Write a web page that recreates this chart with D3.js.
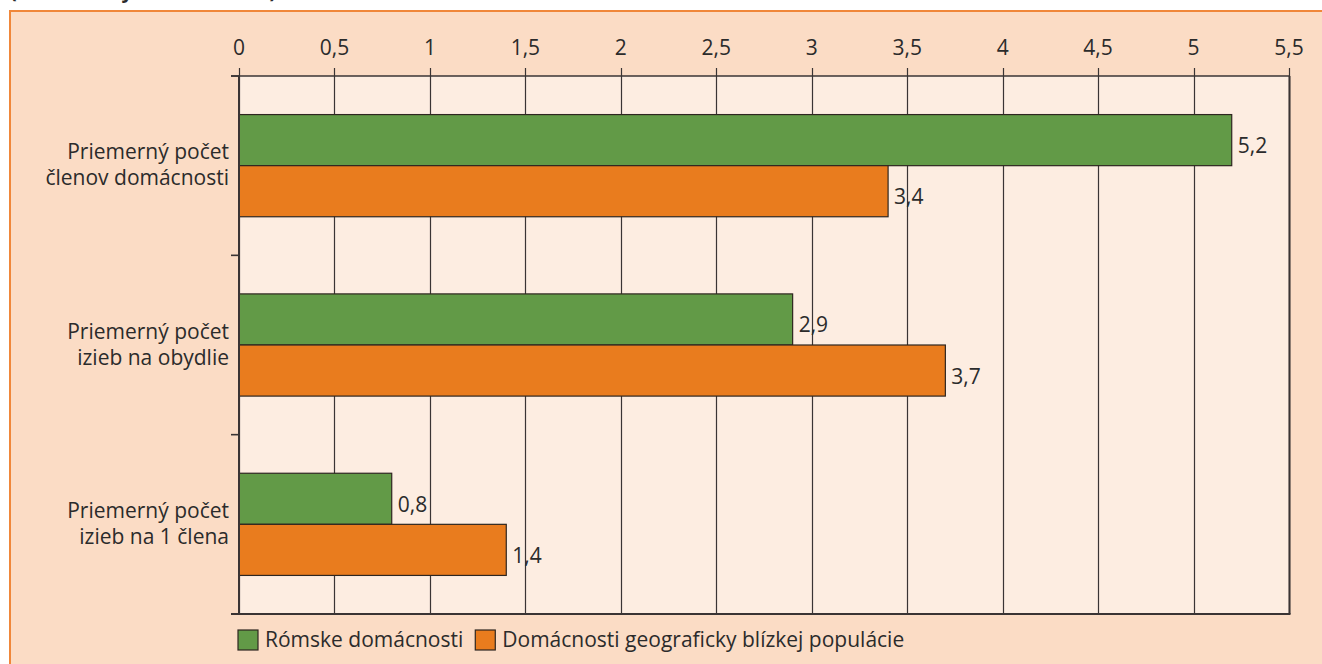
<!DOCTYPE html>
<html><head><meta charset="utf-8">
<script src="https://cdn.jsdelivr.net/npm/d3@7"></script>
<style>
html,body{margin:0;padding:0;background:#fff;overflow:hidden;}
svg{display:block;font-family:"Open Sans",sans-serif;}
</style></head>
<body><svg id="c" width="1322" height="664"></svg>
<script>
const categories = [
  ["Priemerný počet", "členov domácnosti"],
  ["Priemerný počet", "izieb na obydlie"],
  ["Priemerný počet", "izieb na 1 člena"]
];
const seriesNames = ["Rómske domácnosti", "Domácnosti geograficky blízkej populácie"];
const romaValues = [5.2, 2.9, 0.8];
const neighbourValues = [3.4, 3.7, 1.4];
const tickValues = [0, 0.5, 1, 1.5, 2, 2.5, 3, 3.5, 4, 4.5, 5, 5.5];
const colors = ["#629a47", "#e97c1e"];
const subtitle = "(v absolútnych hodnotách)";

(function () {
const svg = d3.select("#c");
const fmt = v => String(v).replace(".", ",");
const fs = 21;

svg.append("rect").attr("x", 10).attr("y", 11).attr("width", 1312).attr("height", 653)
  .attr("fill", "#fbdcc5");
svg.append("line").attr("x1", 10).attr("x2", 1322).attr("y1", 11).attr("y2", 11)
  .attr("stroke", "#f0873a").attr("stroke-width", 2);
svg.append("line").attr("x1", 10).attr("x2", 10).attr("y1", 10).attr("y2", 664)
  .attr("stroke", "#f0873a").attr("stroke-width", 2);
svg.append("text").attr("x", 10).attr("y", -2).attr("font-size", 20).attr("font-weight", "bold")
  .attr("fill", "#2b2b2b").text(subtitle);

const pLeft = 239, pRight = 1289, pTop = 76, pBottom = 614;
const x = d3.scaleLinear().domain([0, 5.5]).range([pLeft, pRight]);
const y = d3.scaleBand().domain(d3.range(categories.length)).range([pTop, pBottom]).padding(0);
const inner = d3.scaleBand().domain([0, 1]).range([0, y.bandwidth()]).paddingInner(0).paddingOuter(0.755);

svg.append("rect").attr("x", pLeft).attr("y", pTop).attr("width", pRight - pLeft).attr("height", pBottom - pTop)
  .attr("fill", "#fdede1");

const axisColor = "#3a3434";
svg.append("g").selectAll("line").data(tickValues).join("line")
  .attr("x1", d => Math.round(x(d)) + 0.5).attr("x2", d => Math.round(x(d)) + 0.5)
  .attr("y1", pTop - 8).attr("y2", pBottom)
  .attr("stroke", axisColor).attr("stroke-width", 1.2);

svg.append("g").selectAll("text").data(tickValues).join("text")
  .attr("x", d => x(d)).attr("y", 55).attr("text-anchor", "middle")
  .attr("font-size", fs).attr("fill", "#2b2b2b").text(fmt);

const series = [romaValues, neighbourValues];
series.forEach((vals, s) => {
  const g = svg.append("g");
  g.selectAll("rect").data(vals).join("rect")
    .attr("x", x(0)).attr("y", (d, i) => y(i) + inner(s))
    .attr("width", d => x(d) - x(0)).attr("height", inner.bandwidth())
    .attr("fill", colors[s]).attr("stroke", "#2e2620").attr("stroke-width", 1.2);
  g.selectAll("text").data(vals).join("text")
    .attr("x", d => x(d) + 6).attr("y", (d, i) => y(i) + inner(s) + inner.bandwidth() / 2 + 13)
    .attr("font-size", fs).attr("fill", "#2b2b2b").text(fmt);
});

svg.append("line").attr("x1", pLeft - 8).attr("x2", pRight + 1).attr("y1", pTop).attr("y2", pTop)
  .attr("stroke", axisColor).attr("stroke-width", 1.6);
svg.append("line").attr("x1", pLeft - 8).attr("x2", pRight + 1.5).attr("y1", pBottom).attr("y2", pBottom)
  .attr("stroke", axisColor).attr("stroke-width", 2);
svg.append("line").attr("x1", pLeft).attr("x2", pLeft).attr("y1", pTop).attr("y2", pBottom)
  .attr("stroke", axisColor).attr("stroke-width", 2);
svg.append("line").attr("x1", pRight + 0.5).attr("x2", pRight + 0.5).attr("y1", pTop).attr("y2", pBottom)
  .attr("stroke", axisColor).attr("stroke-width", 2);
svg.append("g").selectAll("line").data(d3.range(categories.length + 1)).join("line")
  .attr("x1", pLeft - 8).attr("x2", pLeft)
  .attr("y1", d => pTop + d * y.step()).attr("y2", d => pTop + d * y.step())
  .attr("stroke", axisColor).attr("stroke-width", 1.6);

categories.forEach((lines, i) => {
  const cy = y(i) + y.bandwidth() / 2;
  const t = svg.append("text").attr("text-anchor", "end").attr("font-size", fs).attr("fill", "#2b2b2b");
  lines.forEach((ln, k) => {
    t.append("tspan").attr("x", 229).attr("y", cy - 6.5 + k * 26).text(ln);
  });
});

let lx = 238;
seriesNames.forEach((name, s) => {
  svg.append("rect").attr("x", lx).attr("y", 630).attr("width", 20).attr("height", 20)
    .attr("fill", colors[s]).attr("stroke", "#2e2620").attr("stroke-width", 1.2);
  const t = svg.append("text").attr("x", lx + 27).attr("y", 647).attr("font-size", fs)
    .attr("fill", "#2b2b2b").text(name);
  lx += 27 + t.node().getComputedTextLength() + 12;
});
})();
</script></body></html>
